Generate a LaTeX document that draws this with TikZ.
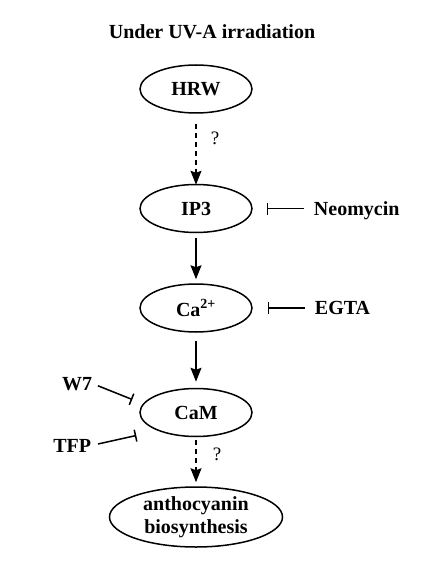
\documentclass[tikz,border=0pt]{standalone}
\usepackage{fontspec}
\setmainfont{Liberation Serif}
\usetikzlibrary{positioning,shapes.geometric,arrows.meta}

\begin{document}
\begin{tikzpicture}[x=1pt,y=-1pt,
molecule/.style={ellipse, draw=black, line width=1.5pt, minimum width=112pt, minimum height=48pt, inner sep=0pt, font=\fontsize{20}{23}\selectfont\bfseries},
agent/.style={inner sep=0pt, text height=13pt, text depth=0pt, font=\fontsize{20}{23}\selectfont\bfseries},
unknown/.style={font=\fontsize{19}{22}\selectfont, inner sep=0pt},
activates/.style={line width=1.5pt, -{Stealth[length=14pt, width=11pt, inset=2pt]}},
maybe/.style={activates, dash pattern=on 5pt off 4pt},
inhibits/.style={line width=1.5pt, -{Bar[width=12pt, line width=1.5pt]}}
]
\useasboundingbox (0,0) rectangle (421,569);

\node[agent](uva_title) at (212,32){Under UV-A irradiation};

\node[molecule](hrw) at (196,89){HRW};
\node[molecule](ip3)[below=70pt of hrw]{IP3};
\node[molecule](calcium)[below=50pt of ip3]{Ca\textsuperscript{2+}};
\node[molecule](cam)[below=55pt of calcium]{CaM};
\node[molecule, minimum width=173pt, minimum height=60pt, align=center](anthocyanin)[below=49pt of cam]{anthocyanin\\biosynthesis};

\node[agent](neomycin)[right=61pt of ip3]{Neomycin};
\node[agent](egta)[right=62pt of calcium]{EGTA};
\node[agent](w7)[left=47pt of cam, yshift=29pt]{W7};
\node[agent](tfp)[left=48pt of cam, yshift=-33pt]{TFP};

\coordinate (w7_end) at ([shift={(-7,-13)}]cam.west);
\coordinate (tfp_end) at ([shift={(-3,23)}]cam.west);

\draw[maybe, shorten <=10pt, shorten >=-1pt] (hrw.south) -- node[unknown, pos=0.35, right=14pt]{?} (ip3.north);
\draw[activates, shorten <=5pt, shorten >=4pt] (ip3.south) -- (calcium.north);
\draw[activates, shorten <=8pt, shorten >=6pt] (calcium.south) -- (cam.north);
\draw[maybe, shorten <=3pt, shorten >=4pt] (cam.south) -- node[unknown, pos=0.35, right=16pt]{?} (anthocyanin.north);

\draw[inhibits, shorten <=10pt, shorten >=14pt] (neomycin.west) -- (ip3.east);
\draw[inhibits, shorten <=10pt, shorten >=15pt] (egta.west) -- (calcium.east);
\draw[inhibits, shorten <=6pt] (w7.east) -- (w7_end);
\draw[inhibits, shorten <=7pt] (tfp.east) -- (tfp_end);
\end{tikzpicture}
\end{document}
